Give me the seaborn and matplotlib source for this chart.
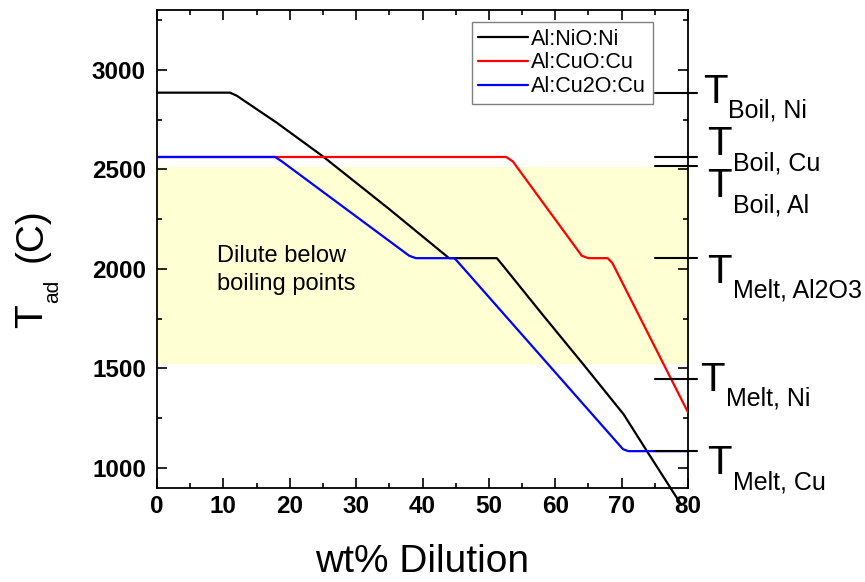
import matplotlib
matplotlib.use("Agg")
import matplotlib.pyplot as plt
import numpy as np
import pandas as pd
import seaborn as sns

# --- data -------------------------------------------------------------
series_names = ["Al:NiO:Ni", "Al:CuO:Cu", "Al:Cu2O:Cu"]
series_colors = ["black", "red", "blue"]

dil_nio = [0, 11.0, 12.0, 18, 25, 35, 44.0, 51.2, 52.0, 58, 64.2, 70.3, 73.8, 79]
tad_nio = [2885, 2885, 2870, 2735, 2565, 2300, 2054, 2054, 2022, 1774, 1522, 1270, 1086, 815]

dil_cuo = [0, 52.6, 53.6, 64.0, 65.0, 67.9, 68.6, 80]
tad_cuo = [2562, 2562, 2540, 2066, 2054, 2054, 2030, 1280]

dil_cu2o = [0, 17.8, 18.8, 38.0, 39.0, 44.8, 45.6, 70.2, 71.0, 80]
tad_cu2o = [2562, 2562, 2540, 2066, 2054, 2054, 2025, 1095, 1085, 1085]

# phase-change reference temperatures (C)
ref_main = ["T", "T", "T", "T", "T", "T"]
ref_sub = ["Boil, Ni", "Boil, Cu", "Boil, Al", "Melt, Al2O3", "Melt, Ni", "Melt, Cu"]
ref_temp = [2885, 2562, 2519, 2054, 1445, 1085]

band_low, band_high = 1525, 2510
band_text = "Dilute below\nboiling points"

x_ticks = [0, 10, 20, 30, 40, 50, 60, 70, 80]
y_ticks = [1000, 1500, 2000, 2500, 3000]

# --- long-form table ----------------------------------------------------
frames = []
for name, xs, ys in zip(series_names,
                        [dil_nio, dil_cuo, dil_cu2o],
                        [tad_nio, tad_cuo, tad_cu2o]):
    frames.append(pd.DataFrame({"dilution": xs, "tad": ys, "mix": name}))
df = pd.concat(frames, ignore_index=True)

# --- style ---------------------------------------------------------------
sns.set_style("ticks")
plt.rcParams["font.family"] = ["Liberation Sans", "DejaVu Sans"]
plt.rcParams.update({"text.color": "black", "axes.labelcolor": "black",
                     "xtick.color": "black", "ytick.color": "black",
                     "axes.edgecolor": "black"})

W, H = 865, 582
fig, ax = plt.subplots(figsize=(W / 100, H / 100), dpi=100)
fig.subplots_adjust(left=157 / W, right=688 / W, top=1 - 10 / H, bottom=1 - 488 / H)

ax.axhspan(band_low, band_high, color="#FFFFD4", lw=0, zorder=0)

sns.lineplot(data=df, x="dilution", y="tad", hue="mix", hue_order=series_names,
             palette=dict(zip(series_names, series_colors)),
             estimator=None, sort=False, lw=1.6, ax=ax, zorder=3)
# the NiO curve runs past the lower edge of the frame
ax.lines[0].set_clip_on(False)

ax.set_xlim(0, 80)
ax.set_ylim(900, 3300)
ax.set_xticks(x_ticks)
ax.set_yticks(y_ticks)
ax.set_xticks(np.arange(5, 80, 10), minor=True)
ax.set_yticks(np.arange(1250, 3300, 500), minor=True)
ax.tick_params(which="both", direction="in", top=True, right=True, width=1.2)
ax.tick_params(which="major", length=7)
ax.tick_params(which="minor", length=3.5)
ax.tick_params(axis="x", which="major", pad=5)
ax.tick_params(axis="y", which="major", pad=8)
for lab in ax.get_xticklabels() + ax.get_yticklabels():
    lab.set_fontsize(17.5)
    lab.set_fontweight("bold")
    lab.set_color("black")
for sp in ax.spines.values():
    sp.set_linewidth(1.3)
    sp.set_color("black")

ax.set_xlabel("wt% Dilution", fontsize=28, labelpad=19)
ax.set_ylabel("")

# shaded-region caption
ax.text(9.0, 2118, band_text, fontsize=17, ha="left", va="top", linespacing=1.33, zorder=4)

# reference temperature markers on the right edge
T_off = [(15, -10), (19, 2), (19, -31), (19, -24.5), (12, -11.3), (19, -23)]
S_off = [(40, -25), (45, -13.4), (45, -47), (45, -39.5), (38, -26.3), (45, -38)]
for main, sub, temp, to, so in zip(ref_main, ref_sub, ref_temp, T_off, S_off):
    ax.plot([75, 81.4], [temp, temp], color="black", lw=1.5, clip_on=False, zorder=5)
    ax.annotate(main, xy=(80, temp), xytext=to, textcoords="offset pixels",
                fontsize=29, ha="left", va="baseline", annotation_clip=False)
    ax.annotate(sub, xy=(80, temp), xytext=so, textcoords="offset pixels",
                fontsize=18, ha="left", va="baseline", annotation_clip=False)

# y-axis title built from pieces: T, subscript "ad", and unit
def fpos(px, py):
    return px / W, 1 - py / H

fig.text(*fpos(42, 328), "T", fontsize=28, rotation=90, rotation_mode="anchor",
         ha="left", va="baseline")
fig.text(*fpos(58, 303), "ad", fontsize=15, rotation=90, rotation_mode="anchor",
         ha="left", va="baseline")
fig.text(*fpos(42, 262.5), "(C)", fontsize=28, rotation=90, rotation_mode="anchor",
         ha="left", va="baseline")

leg = ax.legend(loc="upper right", bbox_to_anchor=(653 / W, 1 - 22 / H),
                bbox_transform=fig.transFigure, fontsize=15.5, frameon=True,
                fancybox=False, framealpha=1, edgecolor="#808080",
                handlelength=2.3, handletextpad=0.15, labelspacing=0.12,
                borderpad=0.32, borderaxespad=0)
leg.get_frame().set_linewidth(1.0)
for h in leg.get_lines():
    h.set_linewidth(1.6)
leg.set_zorder(6)

fig.savefig("out.png", dpi=100)
